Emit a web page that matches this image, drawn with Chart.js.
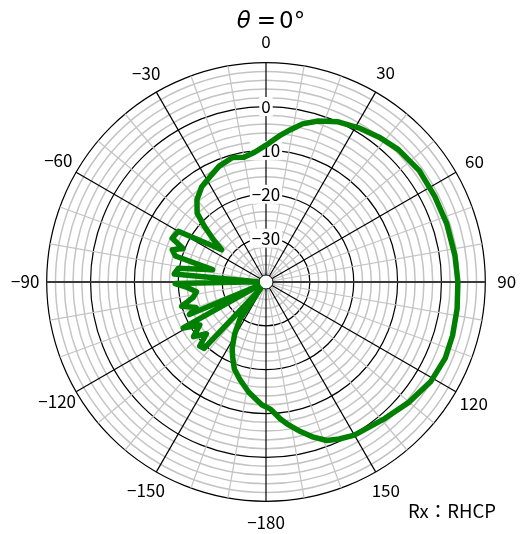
<!DOCTYPE html>
<html>
<head>
<meta charset="utf-8">
<script src="https://cdn.jsdelivr.net/npm/chart.js@4.4.1/dist/chart.umd.min.js"></script>
<style>
html, body { margin: 0; padding: 0; background: #fff; }
#wrap { position: relative; width: 526px; height: 534px; }
#title { position: absolute; left: 6px; width: 530px; top: 6px; line-height: 28px; text-align: center; font-size: 23px; font-family: "DejaVu Sans"; color: #000; }
#title .eq { padding: 0 3px 0 6px; }
#rx { position: absolute; left: 408px; top: 500px; line-height: 20px; font-size: 18.5px; font-family: "Noto Sans CJK JP"; color: #000; }
</style>
</head>
<body>
<div id="wrap">
  <canvas id="chart" width="526" height="534"></canvas>
  <div id="title"><i>θ</i><span class="eq">=</span>0°</div>
  <div id="rx">Rx：RHCP</div>
</div>
<script>
// pattern: direction (deg) and level (dB)
const dirDeg = [
  -178, -175, -171, -165, -160, -156, -153, -149, -145, -141, -137, -134, -131, -127,
  -123, -119, -116, -113, -110, -106, -102, -98, -94, -91, -88,
  -85, -81, -77, -74, -71, -68, -65, -60, -54, -51, -48, -45, -40, -34, -28, -22,
  -15, -10, -5, 0, 3, 6, 9, 13, 18, 24, 31, 38, 45, 54, 63, 72, 82, 90, 98, 106,
  113, 121, 130, 139, 150, 155, 159, 163, 167, 171, 174, 178
];
const gainDb = [
  -12.0, -13.2, -14.6, -17.0, -18.9, -21.3, -23.0, -26.1, -29.6, -38.0, -19.3, -19.0, -22.0, -19.3,
  -22.0, -18.4, -38.0, -21.0, -23.0, -20.0, -23.0, -24.0, -22.0, -19.3, -38.0,
  -19.0, -19.8, -27.5, -18.5, -17.4, -19.6, -16.4, -16.9, -27.5, -24.5, -21.2, -17.8, -15.5, -13.8, -12.8, -11.5,
  -10.6, -11.1, -10.3, -8.8, -7.6, -6.2, -4.9, -3.0, -1.4, 0.0, 1.0, 1.9, 2.7, 3.2, 3.15, 3.3, 3.5, 3.75, 4.0, 4.25,
  4.4, 3.9, 2.6, 1.25, 0.3, -0.5, -1.3, -3.0, -5.0, -7.0, -8.6, -11.0
];
const angleTicks = [0, 30, 60, 90, 120, 150, -180, -150, -120, -90, -60, -30];
const ringLabels = [0, -10, -20, -30];
const ringTicks = [];
for (let v = -40; v <= 10; v += 2) ringTicks.push(v);

const labelFont = '"Noto Sans CJK JP", "Noto Sans", sans-serif';
const meas = document.createElement('canvas').getContext('2d');
meas.font = '17px ' + labelFont;

// label layout: centre of each direction label sits ~21.5px outside the rim
const RIM = 220, LABEL_DIST = 241.5, EXTRA = 9.5, LINE_H = 20.4;
const rad = Math.PI / 180;

// offset of the label box centre from Chart.js' anchor point for a given angle
function anchorOffset(a, w, h) {
  const ox = (a === 0 || a === 180) ? 0 : (a < 180 ? w / 2 : -w / 2);
  const oy = (a === 90 || a === 270) ? 0 : ((a > 270 || a < 90) ? -h / 2 : h / 2);
  return [ox, oy];
}

// one label slot per degree, clockwise from the top; pick the slot that puts
// the label centre closest to its true direction
const dirLabels = new Array(360).fill('');
const padAt = new Array(360).fill(0);
angleTicks.forEach((a) => {
  const text = String(a).replace('-', '\u2212');
  const w = meas.measureText(text).width;
  const A = (a + 360) % 360;
  const cx = Math.sin(A * rad) * LABEL_DIST, cy = -Math.cos(A * rad) * LABEL_DIST;
  let best = null;
  for (let s = A - 6; s <= A + 6; s++) {
    const sn = (s + 360) % 360;
    const off = anchorOffset(sn, w, LINE_H);
    const ux = Math.sin(sn * rad), uy = -Math.cos(sn * rad);
    const d = (cx - off[0]) * ux + (cy - off[1]) * uy;
    const err = Math.hypot(d * ux + off[0] - cx, d * uy + off[1] - cy);
    if (!best || err < best.err - 1e-6) best = { sn, d, err };
  }
  dirLabels[best.sn] = text;
  padAt[best.sn] = best.d - RIM - EXTRA;
});

const pattern = new Array(360).fill(null);
dirDeg.forEach((d, k) => { pattern[(d + 360) % 360] = gainDb[k]; });

const holePlugin = {
  id: 'hole',
  beforeDatasetsDraw(chart) {
    const r = chart.scales.r;
    const ctx = chart.ctx;
    ctx.save();
    ctx.beginPath();
    ctx.arc(r.xCenter, r.yCenter, r.getDistanceFromCenterForValue(-38.4), 0, Math.PI * 2);
    ctx.fillStyle = '#fff';
    ctx.fill();
    ctx.lineWidth = 1;
    ctx.strokeStyle = '#000';
    ctx.stroke();
    ctx.restore();
  }
};

new Chart(document.getElementById('chart'), {
  type: 'radar',
  data: {
    labels: dirLabels,
    datasets: [{
      data: pattern,
      borderColor: '#008000',
      borderWidth: 5.5,
      borderJoinStyle: 'round',
      borderCapStyle: 'round',
      pointRadius: 0,
      fill: false,
      spanGaps: true,
      tension: 0
    }]
  },
  options: {
    responsive: false,
    devicePixelRatio: 1,
    animation: false,
    layout: { padding: { top: 31, bottom: 0, left: 3, right: 0 } },
    plugins: { legend: { display: false }, tooltip: { enabled: false } },
    scales: {
      r: {
        min: -40,
        max: 10,
        startAngle: 0,
        afterBuildTicks: (scale) => { scale.ticks = ringTicks.map((v) => ({ value: v })); },
        grid: {
          circular: true,
          color: (c) => (c.tick.value % 10 === 0 ? '#000' : '#c4c4c4'),
          lineWidth: (c) => (c.tick.value % 10 === 0 ? 1.2 : 1.5)
        },
        angleLines: {
          color: (c) => {
            if (c.index % 30 === 0) return c.index % 180 === 90 ? '#3a3a3a' : '#000';
            return '#c4c4c4';
          },
          lineWidth: (c) => (c.index % 10 === 0 ? (c.index % 180 === 90 ? 2 : 1.2) : 0)
        },
        ticks: {
          autoSkip: false,
          color: '#000',
          font: { size: 17, family: labelFont },
          backdropPadding: { x: 2, y: 1 },
          showLabelBackdrop: (c) => ringLabels.includes(c.tick.value),
          backdropColor: '#fff',
          callback: (v) => (ringLabels.includes(v) ? String(v).replace('-', '\u2212') : '')
        },
        pointLabels: {
          color: '#000',
          font: { size: 17, family: labelFont },
          padding: (c) => padAt[c.index]
        }
      }
    }
  },
  plugins: [holePlugin]
});
</script>
</body>
</html>
